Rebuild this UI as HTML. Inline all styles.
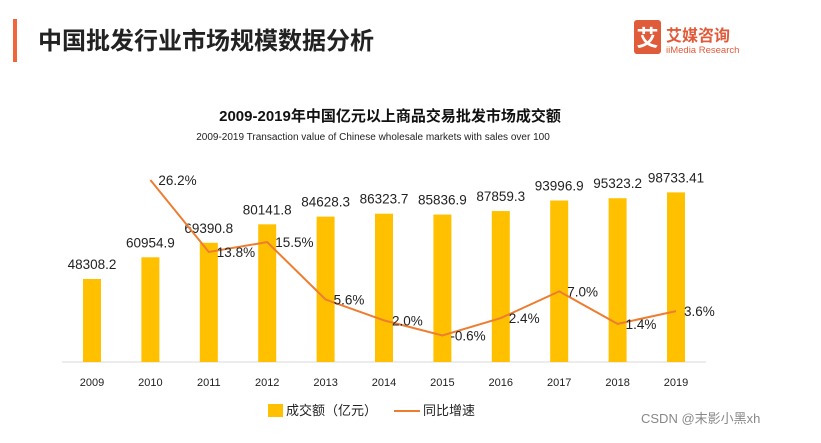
<!DOCTYPE html>
<html><head><meta charset="utf-8"><style>
body{margin:0;background:#fff;width:821px;height:438px;overflow:hidden;font-family:"Liberation Sans","Noto Sans CJK SC",sans-serif}
</style></head><body>
<svg width="821" height="438" xmlns="http://www.w3.org/2000/svg" font-family="Liberation Sans, Noto Sans CJK SC, sans-serif">
<rect x="13" y="19" width="4" height="43" fill="#f0653a"/>
<text x="38" y="49" font-size="24" font-weight="bold" fill="#222">中国批发行业市场规模数据分析</text>
<g>
<rect x="634" y="20" width="27" height="34" rx="3" fill="#e05b3a"/>
<text x="647.5" y="46" font-size="22" fill="#fff" text-anchor="middle" font-weight="bold">艾</text>
<text x="666" y="41" font-size="16" fill="#e05b3a" font-weight="bold">艾媒咨询</text>
<text x="666" y="53" font-size="9.5" fill="#e05b3a">iiMedia Research</text>
</g>
<text x="390" y="121" font-size="15" font-weight="bold" text-anchor="middle" fill="#111">2009-2019年中国亿元以上商品交易批发市场成交额</text>
<text x="373" y="140" font-size="10" text-anchor="middle" fill="#222">2009-2019 Transaction value of Chinese wholesale markets with sales over 100</text>
<g id="plot"></g>
<g>
<rect x="268" y="404" width="15" height="13" fill="#ffc000"/>
<text x="286" y="415" font-size="13" fill="#222">成交额（亿元）</text>
<line x1="394" y1="411" x2="420" y2="411" stroke="#ed7d31" stroke-width="2"/>
<text x="423" y="415" font-size="13" fill="#222">同比增速</text>
</g>
<text x="641" y="423" font-size="13" fill="#888">CSDN @末影小黑xh</text>
</svg>
<script>
const years=["2009","2010","2011","2012","2013","2014","2015","2016","2017","2018","2019"];
const values=[48308.2,60954.9,69390.8,80141.8,84628.3,86323.7,85836.9,87859.3,93996.9,95323.2,98733.41];
const valueLabels=["48308.2","60954.9","69390.8","80141.8","84628.3","86323.7","85836.9","87859.3","93996.9","95323.2","98733.41"];
const growth=[null,26.2,13.8,15.5,5.6,2.0,-0.6,2.4,7.0,1.4,3.6];
const growthLabels=["","26.2%","13.8%","15.5%","5.6%","2.0%","-0.6%","2.4%","7.0%","1.4%","3.6%"];
const NS="http://www.w3.org/2000/svg";
const g=document.getElementById('plot');
const base=362;
const x=i=>92+i*58.4;
const yb=v=>base-v*0.001718;
const yl=p=>332-p*5.8;
function mk(t,a){const e=document.createElementNS(NS,t);for(const k in a)e.setAttribute(k,a[k]);g.appendChild(e);return e;}
const ax=mk('line',{x1:62,y1:base,x2:706,y2:base,stroke:'#d9d9d9','stroke-width':1});


years.forEach((yr,i)=>{
  const r=mk('rect',{x:x(i)-9,y:yb(values[i]),width:18,height:base-yb(values[i]),fill:'#ffc000'});
  
  
  const t=mk('text',{x:x(i),y:yb(values[i])-10,'font-size':13.5,'text-anchor':'middle',fill:'#222'});
  t.textContent=valueLabels[i];
  
  
  const tk=mk('text',{x:x(i),y:386,'font-size':11,'text-anchor':'middle',fill:'#222'});
  tk.textContent=yr;
  
  
});
let d='';
growth.forEach((p,i)=>{if(p===null)return;d+=(d?'L':'M')+x(i)+','+yl(p);});
const pl=mk('path',{d:d,fill:'none',stroke:'#ed7d31','stroke-width':2});


growth.forEach((p,i)=>{if(p===null)return;
  const t=mk('text',{x:x(i)+8,y:yl(p)+5,'font-size':13.5,fill:'#222'});
  t.textContent=growthLabels[i];
  
  
});
</script>
</body></html>
